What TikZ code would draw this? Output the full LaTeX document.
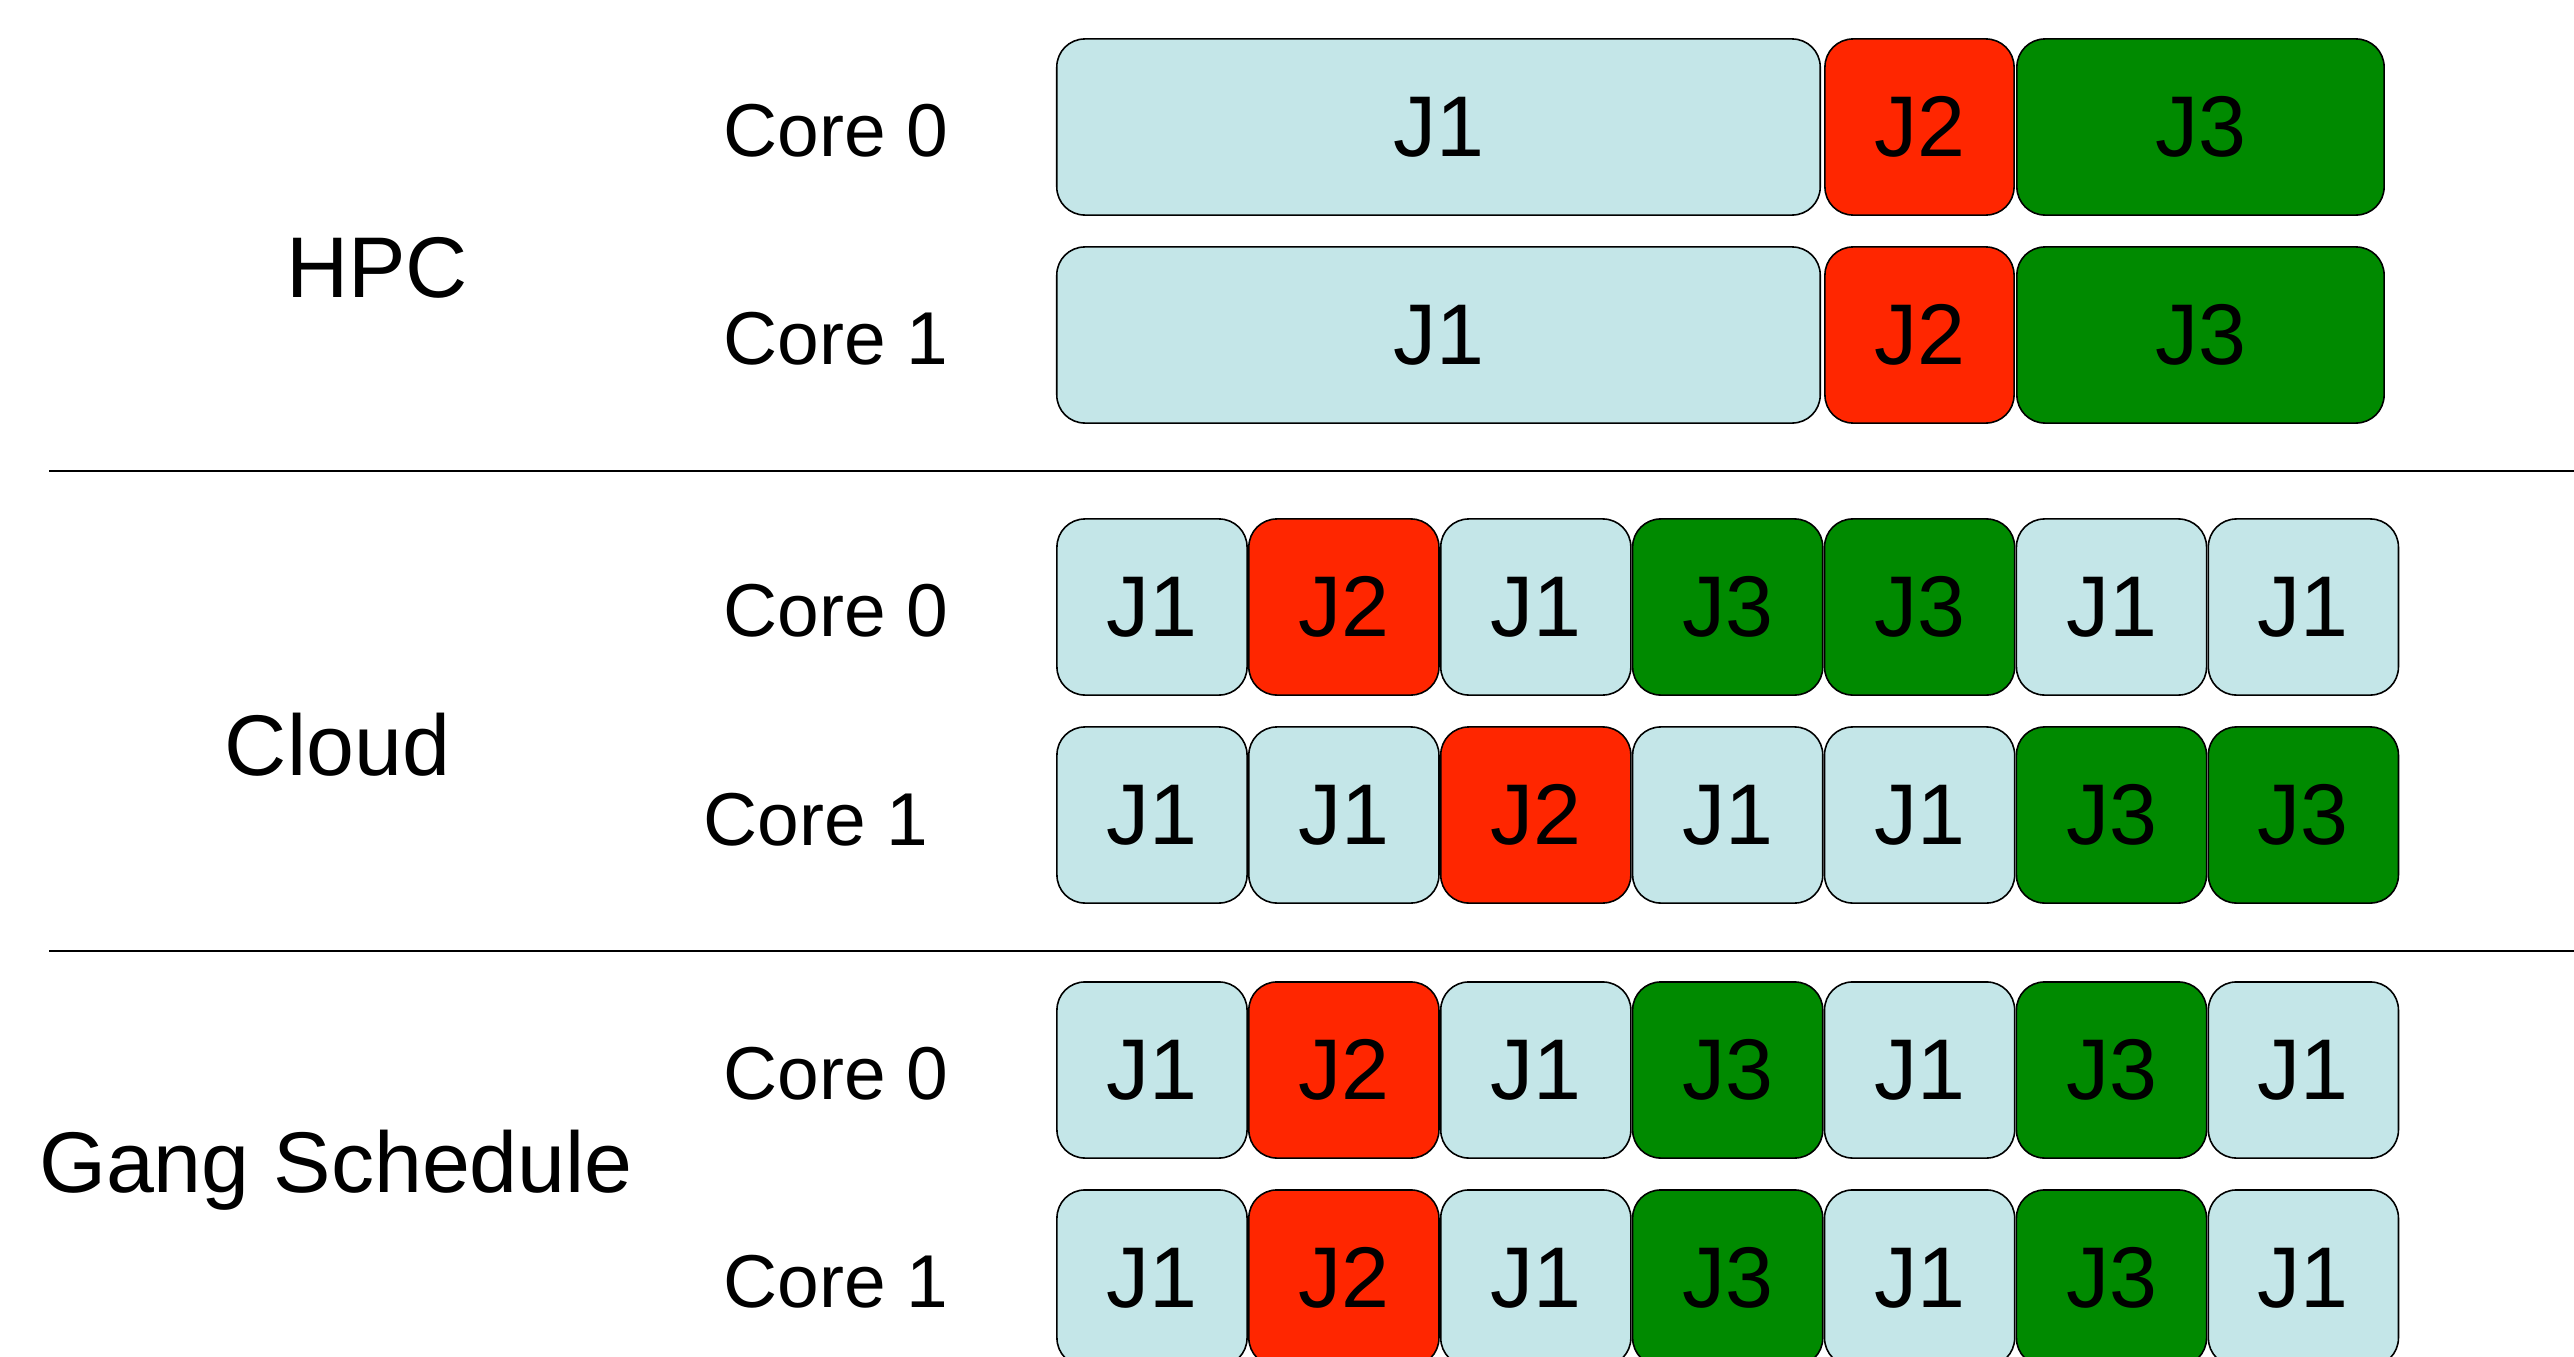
\documentclass[tikz,border=0pt]{standalone}
\usepackage{fontspec}
\setmainfont{Liberation Sans}
\definecolor{jone}{RGB}{196,230,232}
\definecolor{jtwo}{RGB}{255,38,0}
\definecolor{jthree}{RGB}{0,138,0}
\begin{document}
\begin{tikzpicture}[x=0.01cm,y=-0.01cm,
  jbox/.style={draw=black, line width=0.45pt, rounded corners=0.28cm,
    minimum height=1.76cm, inner sep=0pt, font=\fontsize{24.5}{28}\selectfont},
  corelab/.style={anchor=base, inner sep=0pt, font=\fontsize{21.3}{25}\selectfont},
  grouplab/.style={anchor=base, inner sep=0pt, font=\fontsize{24.5}{28}\selectfont},
  sepline/.style={draw=black, line width=0.5pt}]
\useasboundingbox (0,0) rectangle (2574,1357);
\clip (0,0) rectangle (2574,1357);
\fill[white] (0,0) rectangle (2574,1357);

% group labels
\node[grouplab] (hpc) at (377,297) {HPC};
\node[grouplab] (cloud) at (337.5,775) {Cloud};
\node[grouplab] (gang) at (336,1192.5) {Gang Schedule};

% core labels
\node[corelab] (hpc-c0) at (836,156) {Core 0};
\node[corelab] (hpc-c1) at (836,364) {Core 1};
\node[corelab] (cloud-c0) at (836,636) {Core 0};
\node[corelab] (cloud-c1) at (816,845) {Core 1};
\node[corelab] (gang-c0) at (836,1099) {Core 0};
\node[corelab] (gang-c1) at (836,1307) {Core 1};

% separators
\coordinate (s1a) at (49,471);
\coordinate (s1b) at (2574,471);
\coordinate (s2a) at (49,951);
\coordinate (s2b) at (2574,951);
\draw[sepline] (s1a) -- (s1b);
\draw[sepline] (s2a) -- (s2b);

% HPC rows
\foreach \r/\yc in {0/127,1/335}{
  \node[jbox, fill=jone, minimum width=7.63cm] (hpc\r-1) at (1438.5,\yc) {J1};
  \node[jbox, fill=jtwo, minimum width=1.89cm] (hpc\r-2) at (1919.5,\yc) {J2};
  \node[jbox, fill=jthree, minimum width=3.67cm] (hpc\r-3) at (2200.5,\yc) {J3};
}

% Cloud rows
\foreach \lab/\col [count=\i from 0] in {J1/jone,J2/jtwo,J1/jone,J3/jthree,J3/jthree,J1/jone,J1/jone}{
  \node[jbox, fill=\col, minimum width=1.90cm] (cloud0-\i) at ({1057+191.9*\i+95},607) {\lab};
}
\foreach \lab/\col [count=\i from 0] in {J1/jone,J1/jone,J2/jtwo,J1/jone,J1/jone,J3/jthree,J3/jthree}{
  \node[jbox, fill=\col, minimum width=1.90cm] (cloud1-\i) at ({1057+191.9*\i+95},815) {\lab};
}

% Gang rows
\foreach \r/\yc in {0/1070,1/1278}{
  \foreach \lab/\col [count=\i from 0] in {J1/jone,J2/jtwo,J1/jone,J3/jthree,J1/jone,J3/jthree,J1/jone}{
    \node[jbox, fill=\col, minimum width=1.90cm] (gang\r-\i) at ({1057+191.9*\i+95},\yc) {\lab};
  }
}
\end{tikzpicture}
\end{document}
